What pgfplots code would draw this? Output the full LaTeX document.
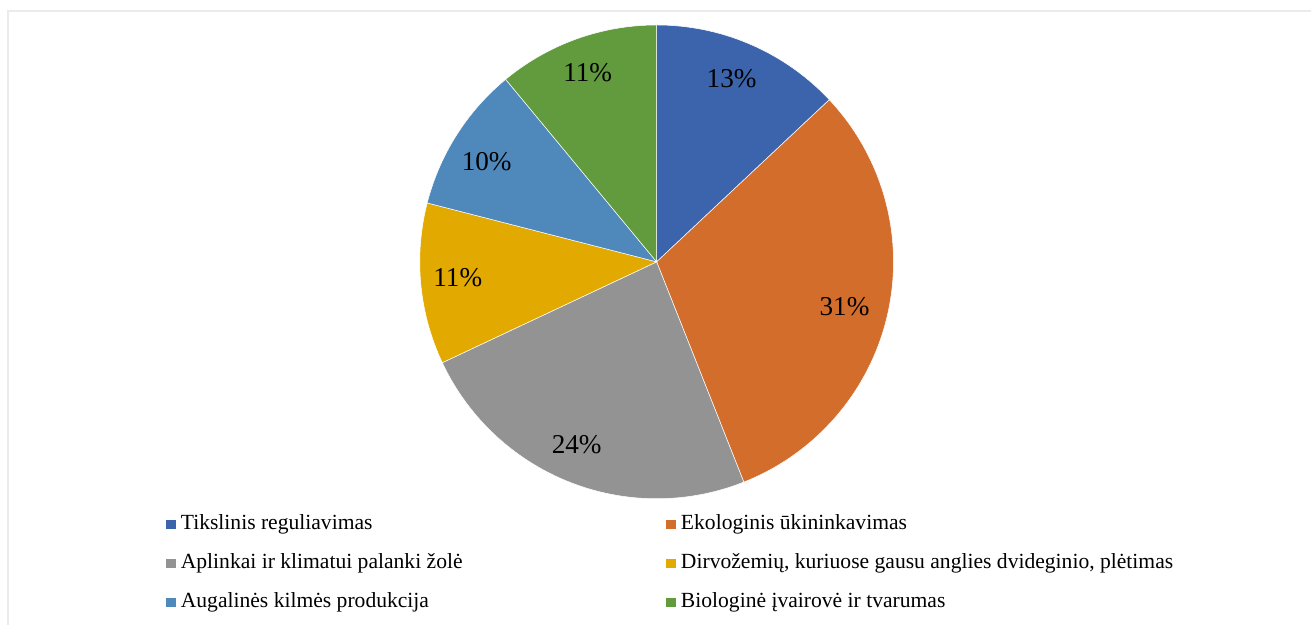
\documentclass[border=0pt]{standalone}
\usepackage{pgfplots}
\pgfplotsset{compat=1.18}
\usepackage{fontspec}
\setmainfont{Liberation Serif}
\definecolor{cA}{HTML}{3C64AC}
\definecolor{cB}{HTML}{D36D2C}
\definecolor{cC}{HTML}{939393}
\definecolor{cD}{HTML}{E2AA00}
\definecolor{cE}{HTML}{4F89BC}
\definecolor{cF}{HTML}{629A3E}
\def\startangle{90}
\newcommand\slice[2]{%
  \pgfmathsetmacro\endangle{\startangle-3.6*#1}%
  \edef\temp{\noexpand\addplot[fill=#2, draw=white, line width=0.25pt, domain=\endangle:\startangle, samples=90] ({657+237*cos(x)},{363+237*sin(x)}) -- (axis cs:657,363) -- cycle;}%
  \temp
  \global\let\startangle\endangle
}
\begin{document}
\begin{tikzpicture}
\begin{axis}[
  scale only axis, width=656pt, height=312.5pt,
  xmin=0, xmax=1312, ymin=0, ymax=625,
  hide axis, clip=false,
  legend columns=2,
  legend cell align=left,
  legend image code/.code={\fill[#1] (0pt,-2.6pt) rectangle (5.5pt,2.6pt);},
  legend style={at={(rel axis cs:0.1258,0.176)}, anchor=north west, draw=none, fill=none, inner sep=0pt,
    font=\fontsize{10.8}{12}\selectfont, row sep=10.1pt,
    nodes={inner sep=0pt, text height=0.72em, text depth=0.22em},
    /tikz/every odd column/.append style={column sep=2pt},
    /tikz/column 2/.style={column sep=101.5pt}},
]
\path (axis cs:0,0) -- (axis cs:1312,625);
\draw[color=black!8, line width=0.75pt] (axis cs:8,0) -- (axis cs:8,614) -- (axis cs:1312,614);
\slice{13}{cA}\addlegendentry{Tikslinis reguliavimas}
\slice{31}{cB}\addlegendentry{Ekologinis ūkininkavimas}
\slice{24}{cC}\addlegendentry{Aplinkai ir klimatui palanki žolė}
\slice{11}{cD}\addlegendentry{Dirvožemių, kuriuose gausu anglies dvideginio, plėtimas}
\slice{10}{cE}\addlegendentry{Augalinės kilmės produkcija}
\slice{11}{cF}\addlegendentry{Biologinė įvairovė ir tvarumas}
\begin{scope}[every node/.style={font=\fontsize{13.6}{16}\selectfont}]
\node at (axis cs:732,546) {13\%};
\node at (axis cs:845,318) {31\%};
\node at (axis cs:577,180) {24\%};
\node at (axis cs:458,347) {11\%};
\node at (axis cs:487,463) {10\%};
\node at (axis cs:588,552) {11\%};
\end{scope}
\end{axis}
\end{tikzpicture}
\end{document}
